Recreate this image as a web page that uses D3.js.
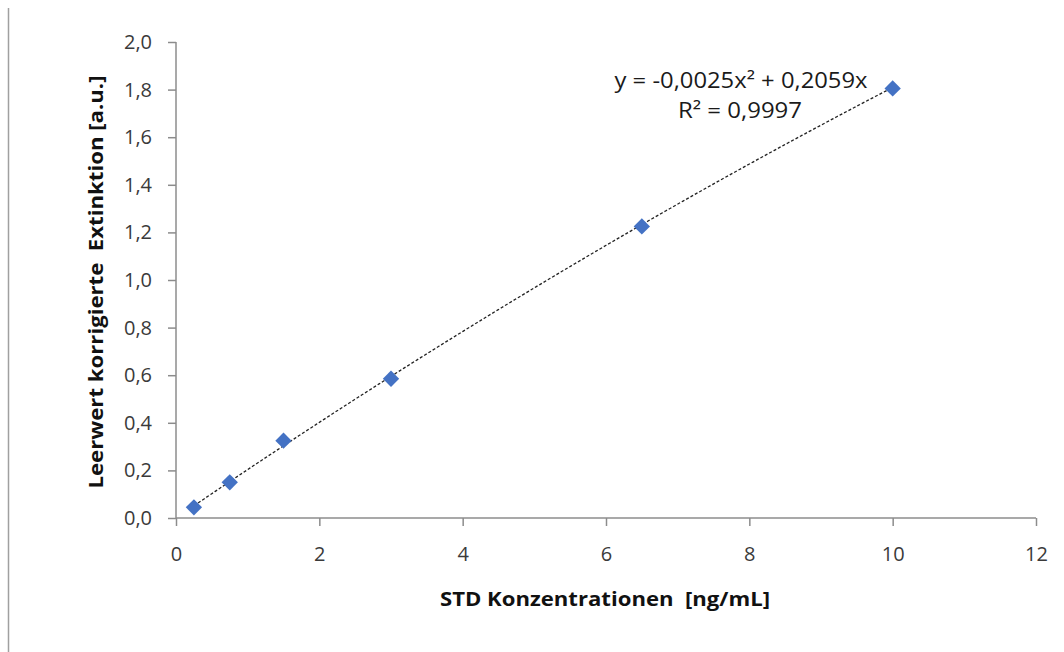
<!DOCTYPE html>
<html><head><meta charset="utf-8">
<script src="https://cdn.jsdelivr.net/npm/d3@7"></script>
<style>html,body{margin:0;padding:0;background:#fff;}svg{display:block;font-family:"Open Sans",sans-serif;}</style>
</head><body>
<svg id="c" width="1064" height="652"></svg>
<script>
const concentrations = [0.25, 0.75, 1.5, 3, 6.5, 10];
const extinctions = [0.045, 0.15, 0.325, 0.585, 1.225, 1.805];
const xTicks = [0, 2, 4, 6, 8, 10, 12];
const yTicks = [0, 0.2, 0.4, 0.6, 0.8, 1.0, 1.2, 1.4, 1.6, 1.8, 2.0];
const trendCoefficients = [0, 0.2059, -0.0025]; // c0 + c1*x + c2*x^2
const equationLines = ["y = -0,0025x\u00B2 + 0,2059x", "R\u00B2 = 0,9997"];
const xTitle = "STD Konzentrationen  [ng/mL]";
const yTitle = "Leerwert korrigierte  Extinktion [a.u.]";

const svg = d3.select("#c");
const x = d3.scaleLinear().domain([0, 12]).range([176, 1036]);
const y = d3.scaleLinear().domain([0, 2]).range([518, 42]);
const fmt = v => d3.format(".1f")(v).replace(".", ",");
const axisColor = "#8c8c8c";

// left border line
svg.append("line").attr("x1", 8.5).attr("x2", 8.5).attr("y1", 8).attr("y2", 652)
  .attr("stroke", "#a0a0a0").attr("stroke-width", 1.5);

// axes
const xAxis = svg.append("g").attr("transform", `translate(0,${y(0)})`)
  .call(d3.axisBottom(x).tickValues(xTicks).tickSize(8).tickPadding(21).tickFormat(d3.format("d")));
const yAxis = svg.append("g").attr("transform", `translate(${x(0)},0)`)
  .call(d3.axisLeft(y).tickValues(yTicks).tickSize(8).tickPadding(16).tickFormat(fmt));
[xAxis, yAxis].forEach(g => {
  g.select(".domain").attr("stroke", axisColor).attr("stroke-width", 1.5);
  g.selectAll(".tick line").attr("stroke", axisColor).attr("stroke-width", 1.5);
  g.selectAll(".tick text").attr("fill", "#3a3a3a").attr("font-size", 20)
   .attr("font-family", "'Open Sans', sans-serif");
});
xAxis.select(".domain").attr("d", `M${x(0)},0H${x(12)}`);
yAxis.select(".domain").attr("d", `M0,${y(2)}V${y(0)}`);

// trendline
const xs = d3.range(0, 201).map(i => concentrations[0] + (d3.max(concentrations) - concentrations[0]) * i / 200);
const poly = v => trendCoefficients[0] + trendCoefficients[1] * v + trendCoefficients[2] * v * v;
svg.append("path")
  .datum(xs)
  .attr("d", d3.line().x(d => x(d)).y(d => y(poly(d))))
  .attr("fill", "none").attr("stroke", "#222").attr("stroke-width", 1.3)
  .attr("stroke-dasharray", "3,2");

// markers
svg.append("g").selectAll("path").data(concentrations).join("path")
  .attr("d", d3.symbol().type(d3.symbolDiamond2).size(170))
  .attr("transform", (d, i) => `translate(${x(d)},${y(extinctions[i])})`)
  .attr("fill", "#4472c4");

// equation
svg.append("text").attr("x", 741).attr("y", 88).attr("text-anchor", "middle")
  .attr("font-size", 21).attr("fill", "#1a1a1a")
  .attr("textLength", 253).attr("lengthAdjust", "spacingAndGlyphs").text(equationLines[0]);
svg.append("text").attr("x", 740).attr("y", 118).attr("text-anchor", "middle")
  .attr("font-size", 21).attr("fill", "#1a1a1a")
  .attr("textLength", 124).attr("lengthAdjust", "spacingAndGlyphs").text(equationLines[1]);

// axis titles
svg.append("text").attr("x", 605).attr("y", 606).attr("text-anchor", "middle")
  .attr("font-size", 20).attr("font-weight", "bold").attr("fill", "#111")
  .attr("xml:space", "preserve").style("white-space", "pre")
  .attr("textLength", 330).attr("lengthAdjust", "spacingAndGlyphs").text(xTitle);
svg.append("text").attr("transform", "translate(103,282) rotate(-90)").attr("text-anchor", "middle")
  .attr("font-size", 20).attr("font-weight", "bold").attr("fill", "#111")
  .attr("xml:space", "preserve").style("white-space", "pre")
  .attr("textLength", 413).attr("lengthAdjust", "spacingAndGlyphs").text(yTitle);
</script>
</body></html>
